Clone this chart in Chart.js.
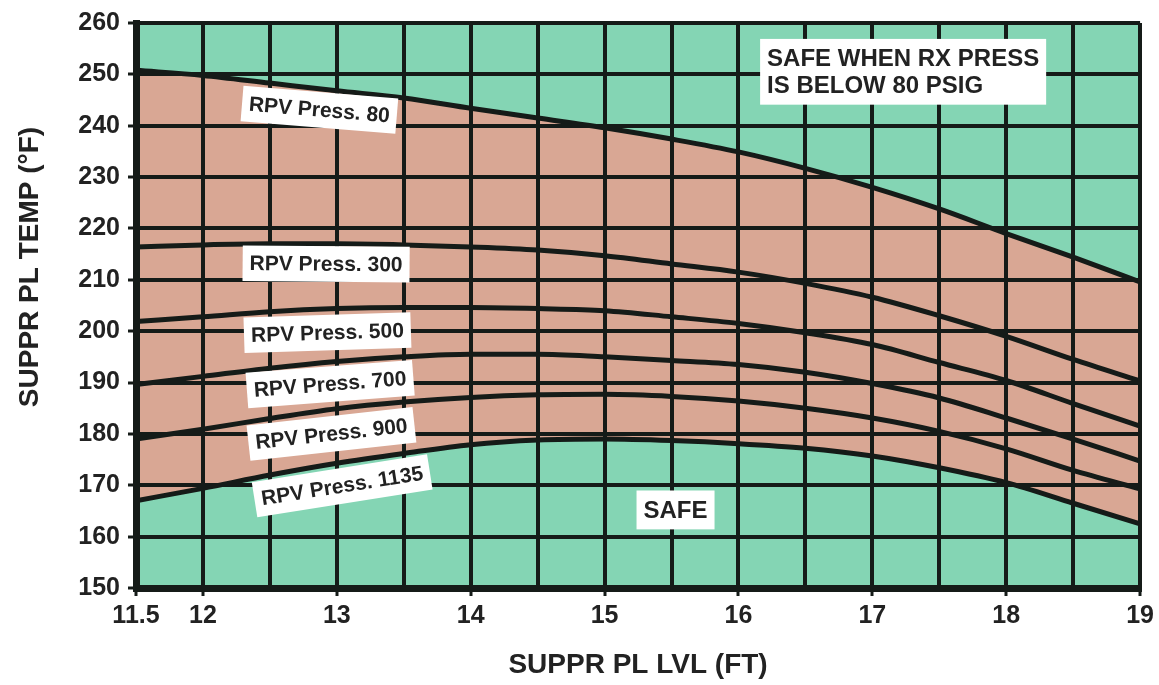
<!DOCTYPE html>
<html>
<head>
<meta charset="utf-8">
<title>Heat Capacity Temperature Limit</title>
<script src="https://cdn.jsdelivr.net/npm/chart.js@4/dist/chart.umd.min.js"></script>
<style>
    html, body { margin: 0; padding: 0; background: #ffffff; }
    #wrap { width: 1159px; height: 685px; position: relative; }
</style>
</head>
<body>
<div id="wrap"><canvas id="hctl-chart"></canvas></div>
<script>
// suppression pool level (ft)
var poolLevels = [11.5, 12, 12.5, 13, 13.5, 14, 14.5, 15, 15.5, 16, 16.5, 17, 17.5, 18, 18.5, 19];

// suppression pool temp (deg F) for each RPV pressure curve
var press80   = [250.8, 249.8, 248.3, 246.8, 245.4, 243.4, 241.5, 239.6, 237.4, 234.9, 231.7, 228.0, 223.8, 219.0, 214.4, 209.6];
var press300  = [216.4, 216.8, 217.0, 217.0, 216.8, 216.4, 215.8, 214.7, 213.1, 211.5, 209.3, 206.6, 203.0, 199.0, 194.5, 190.3];
var press500  = [201.9, 202.8, 203.8, 204.4, 204.6, 204.6, 204.4, 204.0, 202.8, 201.5, 199.7, 197.4, 193.9, 190.4, 185.9, 181.5];
var press700  = [189.6, 191.2, 192.8, 194.1, 195.0, 195.5, 195.5, 195.0, 194.3, 193.5, 192.0, 189.8, 187.0, 183.1, 179.0, 174.7];
var press900  = [179.0, 180.9, 183.0, 184.9, 186.2, 187.1, 187.6, 187.7, 187.3, 186.4, 185.0, 183.1, 180.5, 177.1, 172.9, 169.3];
var press1135 = [167.0, 169.4, 172.0, 174.3, 176.2, 177.9, 178.8, 179.0, 178.7, 178.1, 177.2, 175.7, 173.4, 170.5, 166.5, 162.5];

var curveNames = ['RPV Press. 80', 'RPV Press. 300', 'RPV Press. 500', 'RPV Press. 700', 'RPV Press. 900', 'RPV Press. 1135'];
var curveValues = [press80, press300, press500, press700, press900, press1135];

// tick labels shown on the level axis
var levelTickLabels = [11.5, 12, 13, 14, 15, 16, 17, 18, 19];

var SAFE_GREEN = '#84d5b4';
var UNSAFE_PINK = '#d9a794';
var INK = '#151b18';

// text boxes, placed in data units (level, temp), angle in degrees
var notes = [
    { text: ['RPV Press. 80'],   x: 12.87, y: 243.1, angle: 4.7,  size: 21 },
    { text: ['RPV Press. 300'],  x: 12.92, y: 213.1, angle: 0.5,  size: 21 },
    { text: ['RPV Press. 500'],  x: 12.93, y: 199.7, angle: -1.8, size: 21 },
    { text: ['RPV Press. 700'],  x: 12.95, y: 189.7, angle: -4.4, size: 21 },
    { text: ['RPV Press. 900'],  x: 12.96, y: 180.0, angle: -6.3, size: 21 },
    { text: ['RPV Press. 1135'], x: 13.04, y: 169.9, angle: -9.0, size: 21 },
    { text: ['SAFE'], x: 15.53, y: 165.2, angle: 0, size: 24 },
    { text: ['SAFE WHEN RX PRESS', 'IS BELOW 80 PSIG'], x: 17.23, y: 250.5, angle: 0, size: 24, left: true }
];

window.onload = initialize;

function initialize() {
    renderChart();
}

function buildDatasets() {
    var datasets = [];
    for (var i = 0; i < curveValues.length; i++) {
        var points = [];
        for (var j = 0; j < poolLevels.length; j++) {
            points.push({ x: poolLevels[j], y: curveValues[i][j] });
        }
        datasets.push({
            label: curveNames[i],
            data: points,
            borderColor: INK,
            borderWidth: 5,
            pointRadius: 0,
            cubicInterpolationMode: 'monotone',
            fill: false
        });
    }
    // shade between the 1135 curve and the 80 curve
    var last = datasets[datasets.length - 1];
    last.fill = { target: 0 };
    last.backgroundColor = UNSAFE_PINK;
    return datasets;
}

// green plot background
var plotBackground = {
    id: 'plotBackground',
    beforeDraw: function (chart) {
        var a = chart.chartArea;
        var ctx = chart.ctx;
        ctx.save();
        ctx.fillStyle = SAFE_GREEN;
        ctx.fillRect(a.left, a.top, a.right - a.left, a.bottom - a.top);
        ctx.restore();
    }
};

// white label boxes + y axis title
var noteBoxes = {
    id: 'noteBoxes',
    afterDraw: function (chart) {
        var ctx = chart.ctx;
        var xs = chart.scales.x;
        var ys = chart.scales.y;

        notes.forEach(function (n) {
            ctx.save();
            ctx.font = 'bold ' + n.size + 'px "Liberation Sans", Arial, sans-serif';
            var w = 0;
            n.text.forEach(function (t) { w = Math.max(w, ctx.measureText(t).width); });
            var lineH = n.size * 1.12;
            var boxW = w + 14;
            var boxH = lineH * n.text.length + 12;
            ctx.translate(xs.getPixelForValue(n.x), ys.getPixelForValue(n.y));
            ctx.rotate(n.angle * Math.PI / 180);
            ctx.fillStyle = '#ffffff';
            ctx.fillRect(-boxW / 2, -boxH / 2, boxW, boxH);
            ctx.fillStyle = '#222222';
            ctx.textBaseline = 'middle';
            ctx.textAlign = n.left ? 'left' : 'center';
            var tx = n.left ? -boxW / 2 + 7 : 0;
            for (var k = 0; k < n.text.length; k++) {
                var ty = -boxH / 2 + 6 + lineH * (k + 0.5) + 1;
                ctx.fillText(n.text[k], tx, ty);
            }
            ctx.restore();
        });

        // vertical axis title
        ctx.save();
        ctx.font = 'bold 28px "Liberation Sans", Arial, sans-serif';
        ctx.fillStyle = '#222222';
        ctx.translate(30, 267);
        ctx.rotate(-Math.PI / 2);
        ctx.textAlign = 'center';
        ctx.textBaseline = 'middle';
        ctx.fillText('SUPPR PL TEMP (\u00B0F)', 0, 0);
        ctx.restore();
    }
};

function isLabelled(value) {
    for (var i = 0; i < levelTickLabels.length; i++) {
        if (Math.abs(levelTickLabels[i] - value) < 0.001) return true;
    }
    return false;
}

function renderChart() {
    var ctx = document.getElementById('hctl-chart').getContext('2d');
    var tickFont = { family: '"Liberation Sans", Arial, sans-serif', size: 25, weight: 'bold' };

    var myChart = new Chart(ctx, {
        type: 'line',
        data: { datasets: buildDatasets() },
        options: {
            responsive: true,
            maintainAspectRatio: false,
            animation: false,
            layout: { padding: { top: 20, right: 18, left: 0, bottom: 0 } },
            plugins: {
                legend: { display: false },
                tooltip: { enabled: false }
            },
            scales: {
                x: {
                    type: 'linear',
                    min: 11.5,
                    max: 19,
                    afterFit: function (scale) { scale.height = 97; },
                    ticks: {
                        stepSize: 0.5,
                        autoSkip: false,
                        maxRotation: 0,
                        padding: 5,
                        color: '#222222',
                        font: tickFont,
                        callback: function (value) {
                            return isLabelled(value) ? String(value) : '';
                        }
                    },
                    grid: {
                        z: 1,   // grid over the shaded band
                        color: INK,
                        lineWidth: 4,
                        tickLength: 8,
                        tickWidth: 3,
                        tickColor: function (c) {
                            return (c.tick && isLabelled(c.tick.value)) ? INK : 'rgba(0,0,0,0)';
                        }
                    },
                    border: { display: true, color: INK, width: 7, z: 2 },
                    title: {
                        display: true,
                        text: 'SUPPR PL LVL (FT)',
                        color: '#222222',
                        font: { family: '"Liberation Sans", Arial, sans-serif', size: 28, weight: 'bold' },
                        padding: { top: 0, bottom: 3 }
                    }
                },
                y: {
                    type: 'linear',
                    min: 150,
                    max: 260,
                    afterFit: function (scale) { scale.width = 136; },
                    ticks: {
                        stepSize: 10,
                        padding: 8,
                        color: '#222222',
                        font: tickFont
                    },
                    grid: {
                        z: 1,
                        color: INK,
                        lineWidth: 4,
                        tickLength: 8,
                        tickWidth: 3,
                        tickColor: INK
                    },
                    border: { display: true, color: INK, width: 7, z: 2 }
                }
            }
        },
        plugins: [plotBackground, noteBoxes]
    });
}
</script>
</body>
</html>
